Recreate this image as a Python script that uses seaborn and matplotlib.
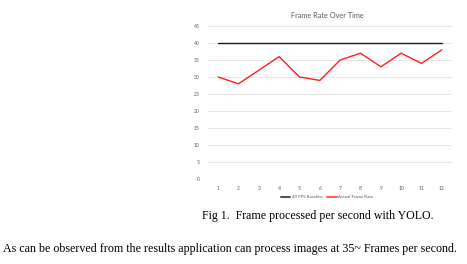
import matplotlib
matplotlib.use("Agg")
import matplotlib.pyplot as plt
import seaborn as sns
import pandas as pd

frames = [1, 2, 3, 4, 5, 6, 7, 8, 9, 10, 11, 12]
baseline = [40] * 12
actual = [30, 28, 32, 36, 30, 29, 35, 37, 33, 37, 34, 38]
yticks = [0, 5, 10, 15, 20, 25, 30, 35, 40, 45]

sns.set_theme(style="white")
plt.rcParams['font.family'] = ['Lato', 'DejaVu Sans']

W, H = 467, 264
fig = plt.figure(figsize=(W / 100, H / 100), dpi=100)
ax = fig.add_axes([208 / W, 1 - 179 / H, 244 / W, 153 / H])

df = pd.DataFrame({"frame": frames * 2,
                   "fps": baseline + actual,
                   "series": ["40 FPS Baseline"] * 12 + ["Actual Frame Rate"] * 12})
sns.lineplot(data=df, x="frame", y="fps", hue="series",
             palette={"40 FPS Baseline": "#1a1a1a", "Actual Frame Rate": "#ff2020"},
             linewidth=1.0, ax=ax, legend=False)

ax.set_xlim(0.5, 12.5)
ax.set_ylim(0, 45)
ax.set_yticks(yticks)
ax.set_xticks(frames)
ax.set_xticklabels([str(f) for f in frames])
ax.tick_params(axis="both", length=0, labelsize=3.6, colors="#595959", pad=6)
ax.tick_params(axis="x", pad=5)
for s in ax.spines.values():
    s.set_visible(False)
ax.grid(axis="y", color="#e3e3e3", linewidth=0.6)
ax.set_axisbelow(True)
ax.set_xlabel("")
ax.set_ylabel("")

fig.text(327 / W, 1 - 15 / H, "Frame Rate Over Time", ha="center", va="center",
         fontsize=5.3, color="#595959")

# legend
from matplotlib.lines import Line2D
handles = [Line2D([], [], color="#595959", lw=1.5), Line2D([], [], color="#ff6060", lw=1.5)]
leg = fig.legend(handles, ["40 FPS Baseline", "Actual Frame Rate"], loc="center",
                 bbox_to_anchor=(327 / W, 1 - 197 / H), ncol=2, frameon=False,
                 fontsize=3.2, handlelength=2.2, handletextpad=0.3, columnspacing=1.1,
                 labelcolor="#595959")

fig.text(318 / W, 1 - 216 / H, "Fig 1.  Frame processed per second with YOLO.",
         ha="center", va="center", fontsize=8.6, family=["Liberation Serif"], color="black")
fig.text(3 / W, 1 - 249 / H,
         "As can be observed from the results application can process images at 35~ Frames per second.",
         ha="left", va="center", fontsize=8.65, family=["Liberation Serif"], color="black")

fig.savefig("out.png", dpi=100, facecolor="white")
